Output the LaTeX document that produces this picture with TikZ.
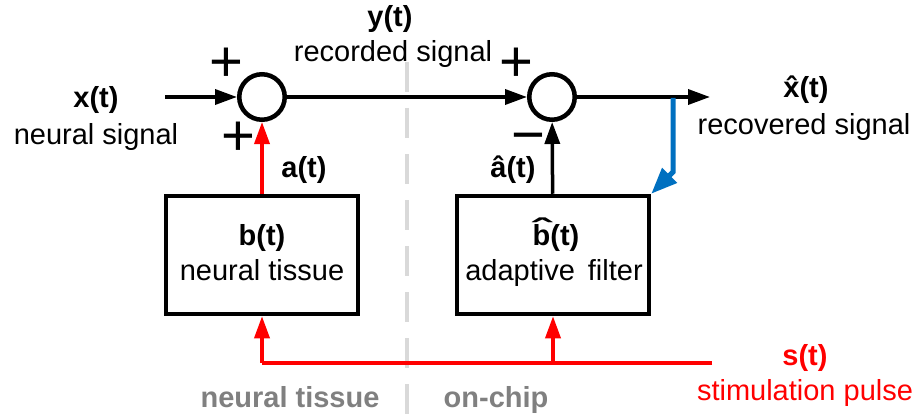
\documentclass[tikz,border=0pt]{standalone}
\usepackage{fontspec}
\setmainfont{Liberation Sans}
\usepackage{graphicx}
\usetikzlibrary{arrows.meta}
\definecolor{sred}{HTML}{FF0000}
\definecolor{fblue}{HTML}{0070C0}
\definecolor{lgray}{HTML}{D9D9D9}
\definecolor{tgray}{HTML}{808080}
\newcommand\hatover[3]{\leavevmode\setbox0=\hbox{#1}\rlap{\hbox to\wd0{\hss\raisebox{#3}{\scalebox{#2}[1]{ˆ}}\hss}}\box0}
\begin{document}
\begin{tikzpicture}[x=1pt,y=-1pt,
  every node/.style={font=\fontsize{29}{34}\selectfont, inner sep=0pt},
  lbl/.style={anchor=base},
  blbl/.style={anchor=base, font=\fontsize{29}{34}\selectfont\bfseries},
  sgn/.style={anchor=base, font=\fontsize{58}{60}\selectfont},
  sumc/.style={circle, draw, line width=4.5pt, minimum size=45.5pt},
  blk/.style={draw, line width=4.5pt, minimum width=192pt, minimum height=118pt},
  conn/.style={line width=3.5pt, -{Triangle[length=22pt,width=15pt]}},
  fb/.style={line width=5pt, fblue, -{Triangle[length=26pt,width=20pt]}}]
\useasboundingbox (0,0) rectangle (920,417);
% divider
\draw[lgray, line width=4pt, dash pattern=on 30pt off 16pt] (407,62) -- (407,417);
% nodes
\node[sumc] (s1) at (262,97) {};
\node[sumc] (s2) at (552,97) {};
\node[blk] (b1) at (262,255) {};
\node[blk] (b2) at (553,255) {};
\coordinate (xin) at (165,97);
\coordinate (xout) at (710,97);
\coordinate (tap) at (673,98);
\coordinate (bend) at (673,172);
\coordinate (sin) at (712,363);
% connectors
\draw[conn] (xin) -- (s1);
\draw[conn] (s1) -- (s2);
\draw[conn] (s2) -- (xout);
\draw[fb] (tap) -- (bend) -- (b2.north east);
\draw[conn, sred] (b1) -- (s1);
\draw[conn] (b2) -- (s2);
\draw[line width=3.5pt, sred] (sin) -- (b1.south |- sin);
\draw[conn, sred] (b1.south |- sin) -- (b1.south);
\draw[conn, sred] (b2.south |- sin) -- (b2.south);
% signs
\node[sgn] (p1) at (226,81.5) {+};
\node[sgn] (p2) at (238,155.5) {+};
\node[sgn] (p3) at (516,81.5) {+};
\node[sgn] (m1) at (528,154.5) {−};
% labels
\node[blbl] (lx) at (96,108) {x(t)};
\node[lbl] (lxs) at (96,144) {neural signal};
\node[blbl] (ly) at (390,27) {y(t)};
\node[lbl] (lys) at (393,62) {recorded signal};
\node[blbl] (la) at (304,177) {a(t)};
\node[blbl] (lah) at (513,177) {â(t)};
\node[blbl] (lxh) at (806,98) {\hatover{x}{1}{0pt}(t)};
\node[lbl] (lxhs) at (804,135) {recovered signal};
\node[blbl] (lb) at (262,245) {b(t)};
\node[lbl] (lbs) at (262,280) {neural tissue};
\node[blbl] (lbh) at (556,245) {\hatover{b}{2}{0.2em}(t)};
\node[lbl] (lbhs) at (554,280) {adaptive\hspace{0.45em}filter};
\node[blbl, text=sred] (ls) at (805,365) {s(t)};
\node[lbl, text=sred] (lss) at (805,400) {stimulation pulse};
\node[blbl, text=tgray] (lnt) at (290,407) {neural tissue};
\node[blbl, text=tgray] (loc) at (496,407) {on-chip};
\end{tikzpicture}
\end{document}
